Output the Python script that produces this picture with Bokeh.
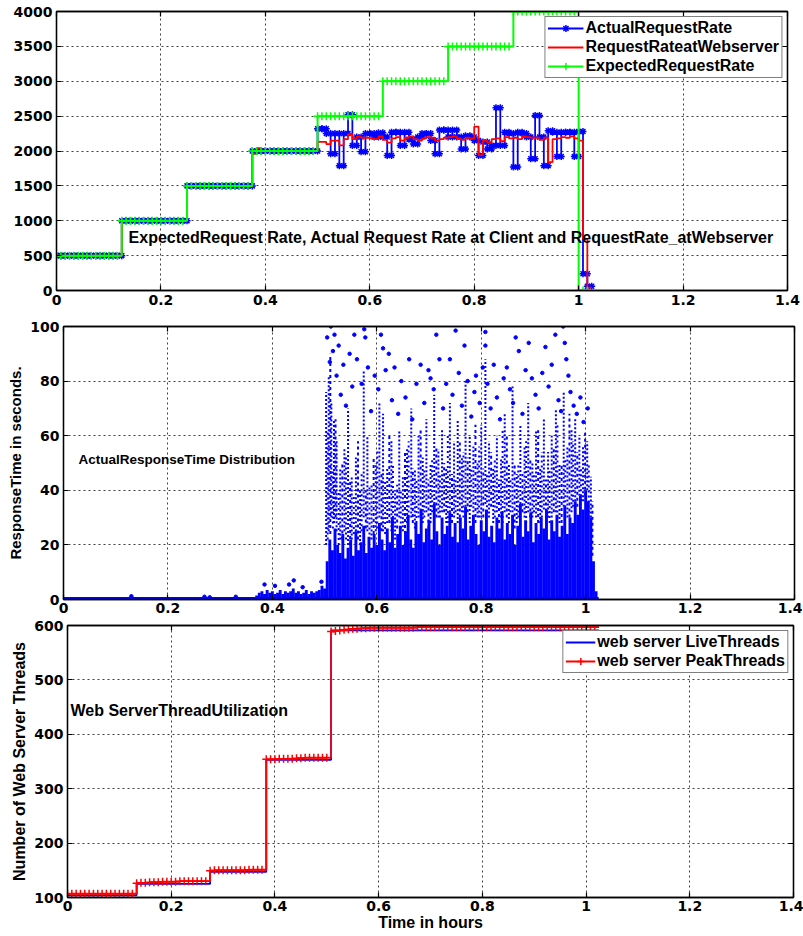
import numpy as np
from bokeh.plotting import figure
from bokeh.models import (Range1d, FixedTicker, NumeralTickFormatter, LinearAxis,
                          Legend, LegendItem, Label)
from bokeh.embed import file_html
from bokeh.resources import INLINE

# ---------------------------------------------------------------- data
SAMPLE_H = 1.0 / 120.0          # one sample every 30 s (in hours)

x_ticks = [0, 0.2, 0.4, 0.6, 0.8, 1.0, 1.2, 1.4]
rate_ticks = [0, 500, 1000, 1500, 2000, 2500, 3000, 3500, 4000]
resp_ticks = [0, 20, 40, 60, 80, 100]
thread_ticks = [100, 200, 300, 400, 500, 600]

# panel 1 : request rates (one value per sample)
expected_rate = ([500] * 15 + [1000] * 15 + [1500] * 15 + [2000] * 15 +
                 [2500] * 15 + [3000] * 15 + [3500] * 15 + [4000] * 15 + [0, 0, 0])

actual_rate_load = [
    2320, 2320, 2250, 1960, 2250, 1790, 2250, 2520, 2080, 2200,
    1990, 2250, 2250, 2200, 2260, 2200, 1935, 2270, 2270, 2080,
    2270, 2170, 2100, 2200, 2250, 2250, 2150, 1960, 2300, 2300,
    2200, 2300, 2200, 2030, 2220, 2200, 2150, 1935, 2130, 2030,
    2080, 2620, 2080, 2270, 2250, 1770, 2270, 2250, 2200, 1890,
    2510, 2200, 1790, 2290, 2270, 1920, 2270, 2270, 2270, 1920]
actual_rate = ([500] * 15 + [1000] * 15 + [1500] * 15 + [2000] * 15 +
               actual_rate_load + [2280, 240, 60])

webserver_rate_load = [
    2130, 2130, 2100, 2150, 2150, 2080, 2170, 2240, 2170, 2210,
    2190, 2190, 2180, 2170, 2210, 2160, 2120, 2180, 2200, 2150,
    2190, 2210, 2170, 2150, 2180, 2200, 2190, 2150, 2170, 2190,
    2200, 2210, 2180, 2160, 2190, 2180, 2350, 1940, 2150, 2120,
    2170, 2180, 2140, 2200, 2180, 2190, 2170, 2210, 2200, 2190,
    2190, 2160, 2190, 1840, 2170, 2180, 2200, 2190, 2210, 2180]
webserver_rate = ([500] * 15 + [1000] * 15 + [1500] * 15 + [1960, 2040] + [2000] * 13 +
                  webserver_rate_load + [2150, 740, 40])

# panel 2 : response-time scatter, summarised as dense columns, streaks and outliers
DENSE_START = 0.370
DENSE_STEP = 0.005
dense_top = [
    1.5, 2.5, 3, 2, 3.5, 2.5, 3, 2, 2.5, 3.5, 2, 3, 2.5, 3, 4, 2.5, 3, 2, 2.5, 3.5,
    2, 3, 2.5, 3, 3.5, 5,
    4, 14, 22, 18, 26, 20, 17, 24, 15, 19, 22, 16, 25, 18, 21, 27, 17, 23, 19, 24,
    20, 28, 22, 18, 26, 21, 30, 19, 24, 27, 20, 25, 31, 22, 19, 28, 24, 33, 21, 26,
    29, 22, 35, 25, 20, 30, 24, 27, 32, 23, 28, 21, 30, 26, 34, 22, 27, 31, 24, 20,
    29, 25, 33, 23, 27, 21, 30, 26, 32, 22, 28, 24, 31, 20, 27, 35, 23, 29, 25, 32,
    21, 28, 24, 30, 26, 33, 22, 29, 25, 31, 23, 27, 34, 24, 30, 28, 36, 31, 38, 33,
    40, 36, 30, 14, 3]

streak_t = [0.503, 0.508, 0.513, 0.518, 0.523, 0.530, 0.538, 0.545, 0.552, 0.560,
            0.568, 0.575, 0.582, 0.590, 0.598, 0.605, 0.612, 0.620, 0.628, 0.635,
            0.643, 0.650, 0.658, 0.666, 0.673, 0.680, 0.688, 0.695, 0.703, 0.710,
            0.718, 0.725, 0.733, 0.740, 0.748, 0.755, 0.763, 0.770, 0.778, 0.785,
            0.793, 0.800, 0.808, 0.815, 0.823, 0.830, 0.838, 0.845, 0.853, 0.860,
            0.868, 0.875, 0.883, 0.890, 0.898, 0.905, 0.913, 0.920, 0.928, 0.935,
            0.943, 0.950, 0.958, 0.965, 0.973, 0.980, 0.988, 0.995, 1.003, 1.010]
streak_lo = [20, 25, 30, 28, 25, 22, 25, 20, 22, 25,
             20, 30, 25, 22, 25, 30, 25, 28, 25, 22,
             30, 25, 28, 30, 26, 30, 28, 32, 28, 35,
             30, 32, 28, 32, 30, 28, 32, 34, 28, 32,
             30, 30, 35, 30, 28, 32, 30, 32, 28, 32,
             28, 35, 30, 32, 30, 30, 28, 33, 30, 30,
             32, 28, 34, 30, 32, 36, 38, 36, 40, 30]
streak_hi = [76, 82, 72, 66, 58, 48, 55, 70, 45, 52,
             40, 84, 60, 42, 50, 72, 68, 48, 58, 40,
             62, 45, 55, 70, 48, 60, 52, 66, 50, 75,
             55, 62, 48, 72, 58, 66, 52, 80, 60, 56,
             50, 64, 88, 58, 48, 60, 52, 68, 50, 78,
             46, 64, 56, 72, 50, 62, 48, 66, 54, 60,
             70, 50, 76, 56, 62, 66, 60, 56, 58, 45]

streak2_t = [0.506, 0.516, 0.527, 0.541, 0.556, 0.571, 0.586, 0.601, 0.616, 0.631,
             0.646, 0.661, 0.676, 0.691, 0.706, 0.721, 0.736, 0.751, 0.766, 0.781,
             0.796, 0.811, 0.826, 0.841, 0.856, 0.871, 0.886, 0.901, 0.916, 0.931,
             0.946, 0.961, 0.976, 0.991, 1.006]
streak2_lo = [22, 26, 20, 22, 24, 25, 22, 26, 24, 28,
              26, 30, 28, 30, 32, 30, 28, 32, 30, 34,
              30, 32, 30, 28, 32, 30, 28, 32, 30, 28,
              30, 32, 34, 36, 30]
streak2_hi = [62, 48, 40, 52, 38, 46, 42, 55, 44, 50,
              40, 58, 44, 48, 52, 46, 60, 44, 54, 48,
              56, 46, 52, 62, 44, 50, 58, 46, 54, 48,
              64, 52, 58, 48, 50]

streak3_t = [0.511, 0.521, 0.534, 0.549, 0.564, 0.579, 0.594, 0.609, 0.624, 0.639,
             0.654, 0.669, 0.684, 0.699, 0.714, 0.729, 0.744, 0.759, 0.774, 0.789,
             0.804, 0.819, 0.834, 0.849, 0.864, 0.879, 0.894, 0.909, 0.924, 0.939,
             0.954, 0.969, 0.984, 0.999, 1.013]
streak3_lo = [24, 30, 22, 20, 22, 26, 24, 25, 28, 26,
              24, 28, 30, 26, 30, 32, 28, 30, 32, 28,
              30, 34, 28, 30, 26, 32, 30, 28, 30, 32,
              28, 30, 34, 38, 16]
streak3_hi = [90, 66, 50, 44, 58, 40, 52, 46, 60, 42,
              54, 48, 62, 44, 56, 50, 46, 58, 52, 64,
              48, 54, 44, 60, 50, 46, 52, 62, 44, 56,
              50, 68, 54, 62, 36]

outlier_t = [0.505, 0.510, 0.512, 0.516, 0.519, 0.523, 0.527, 0.531, 0.536, 0.541,
             0.548, 0.553, 0.557, 0.562, 0.571, 0.576, 0.578, 0.583, 0.589, 0.596,
             0.603, 0.608, 0.612, 0.617, 0.623, 0.629, 0.634, 0.641, 0.647, 0.655,
             0.662, 0.668, 0.676, 0.684, 0.691, 0.699, 0.703, 0.709, 0.714, 0.720,
             0.727, 0.733, 0.740, 0.745, 0.751, 0.757, 0.763, 0.768, 0.774, 0.781,
             0.787, 0.790, 0.797, 0.803, 0.808, 0.808, 0.812, 0.818, 0.824, 0.830,
             0.836, 0.843, 0.849, 0.855, 0.861, 0.866, 0.872, 0.879, 0.885, 0.891,
             0.897, 0.904, 0.910, 0.917, 0.923, 0.929, 0.935, 0.942, 0.948, 0.953,
             0.957, 0.960, 0.963, 0.967, 0.971, 0.977, 0.983, 0.990, 0.996, 1.004,
             0.130, 0.270, 0.280, 0.330, 0.385, 0.405, 0.432, 0.441, 0.458, 0.494]
outlier_v = [96, 87, 100, 91, 97, 82, 93, 75, 86, 71,
             90, 78, 97, 88, 79, 99, 96, 85, 69, 82,
             77, 97, 92, 84, 90, 73, 85, 68, 80, 74,
             88, 66, 79, 86, 72, 84, 81, 77, 97, 88,
             70, 79, 88, 75, 98.5, 83, 71, 93, 80, 67,
             76, 82, 72, 85, 98, 93, 79, 70, 86, 74,
             66, 81, 85, 77, 72, 96, 91, 68, 84, 94,
             81, 75, 70, 83, 92.5, 78, 86, 97, 73, 69,
             100, 94, 88, 82, 76, 71, 68, 74, 65, 70,
             1.2, 1.0, 0.8, 1.0, 5.5, 5.0, 5.5, 7.0, 4.5, 6.5]
baseline_t = [0.0, 1.025]
baseline_v = [0.4, 0.4]

# panel 3 : web-server threads (one value per sample)
peak_threads = ([107] * 16 +
                [126, 127, 127, 128, 128, 128, 129, 129, 129, 129, 130, 130, 130, 130, 130, 130, 130] +
                [149, 150, 150, 150, 150, 150, 150, 150, 150, 151, 151, 151, 151] +
                [354, 354, 354, 355, 355, 355, 355, 356, 356, 357, 357, 357, 357, 357, 357] +
                [589, 590, 591, 592, 593, 594, 594, 595, 595, 596] + [596] * 10 + [597] * 42)
live_threads = ([104] * 16 + [125] * 17 + [147] * 13 + [353] * 15 + [591] * 62)

# ---------------------------------------------------------------- style helpers
TICK_FONT = "DejaVu Sans"
TEXT_FONT = "Liberation Sans"
BLUE, RED, GREEN = "#0000FF", "#FF0000", "#00FF00"


def style_axis(ax, ticks, standoff=4):
    ax.ticker = FixedTicker(ticks=ticks)
    ax.axis_line_color = "black"
    ax.axis_line_width = 1.3
    ax.major_tick_in = 5
    ax.major_tick_out = 0
    ax.major_tick_line_color = "black"
    ax.major_tick_line_width = 1.2
    ax.minor_tick_line_color = None
    ax.major_label_text_font = TICK_FONT
    ax.major_label_text_font_style = "bold"
    ax.major_label_text_font_size = "14px"
    ax.major_label_text_color = "black"
    ax.major_label_standoff = standoff
    ax.axis_label_text_font = TEXT_FONT
    ax.axis_label_text_font_style = "bold"
    ax.axis_label_text_font_size = "16px"
    ax.axis_label_text_color = "black"
    ax.axis_label_standoff = 3


def make_panel(fw, fh, ml, mr, mt, mb, yr, yticks, ylabel=None, xlabel=None, xstandoff=4):
    p = figure(frame_width=fw, frame_height=fh,
               min_border_left=ml, min_border_right=mr,
               min_border_top=mt, min_border_bottom=mb,
               x_range=Range1d(0, 1.4), y_range=Range1d(*yr),
               output_backend="svg", toolbar_location=None,
               background_fill_color="white", border_fill_color="white")
    style_axis(p.xaxis[0], x_ticks, xstandoff)
    p.xaxis[0].formatter = NumeralTickFormatter(format="0.[0]")
    style_axis(p.yaxis[0], yticks)
    if ylabel:
        p.yaxis[0].axis_label = ylabel
    if xlabel:
        p.xaxis[0].axis_label = xlabel
        p.xaxis[0].axis_label_standoff = 0
    p.xgrid.ticker = FixedTicker(ticks=x_ticks)
    p.ygrid.ticker = FixedTicker(ticks=yticks)
    for g in (p.xgrid[0], p.ygrid[0]):
        g.grid_line_color = "black"
        g.grid_line_alpha = 0.75
        g.grid_line_dash = "2 3"
        g.grid_line_width = 1
    p.outline_line_color = "black"
    p.outline_line_width = 1.3
    # mirrored inward ticks (Matlab style box), no labels
    for loc, ticks in (("above", x_ticks), ("right", yticks)):
        ax = LinearAxis()
        style_axis(ax, ticks, 0)
        ax.major_label_text_font_size = "0px"
        ax.major_label_text_color = None
        p.add_layout(ax, loc)
    return p


def step_xy(vals):
    t = np.arange(len(vals) + 1) * SAMPLE_H
    return t, list(vals) + [vals[-1]]


def style_legend(leg, size, gw):
    leg.location = "top_right"
    leg.border_line_color = "black"
    leg.border_line_width = 1.2
    leg.background_fill_color = "white"
    leg.background_fill_alpha = 1.0
    leg.label_text_font = TEXT_FONT
    leg.label_text_font_style = "bold"
    leg.label_text_font_size = size
    leg.label_text_color = "black"
    leg.glyph_width = gw
    leg.glyph_height = 18
    leg.label_height = 18
    leg.label_standoff = 2
    leg.spacing = 1
    leg.padding = 2
    leg.margin = 5


# ---------------------------------------------------------------- panel 1
p1 = make_panel(731, 279, 56, 14, 11, 21, (0, 4000), rate_ticks)

tx, ty = step_xy(actual_rate)
r_act = p1.step(tx, ty, mode="after", line_color=BLUE, line_width=1.8)
n = len(actual_rate)
t_start = np.arange(n) * SAMPLE_H
mk_x = np.concatenate([t_start, t_start + SAMPLE_H])
mk_y = np.concatenate([actual_rate, actual_rate])
s_act = p1.scatter(mk_x, mk_y, marker="asterisk", size=7, line_color=BLUE, line_width=1.5)

tx, ty = step_xy(webserver_rate)
r_web = p1.step(tx, ty, mode="after", line_color=RED, line_width=1.8)

tx, ty = step_xy(expected_rate)
r_exp = p1.step(tx, ty, mode="after", line_color=GREEN, line_width=2)
s_exp = p1.scatter(np.arange(len(expected_rate)) * SAMPLE_H, expected_rate,
                   marker="cross", size=8, line_color=GREEN, line_width=1.5)

leg1 = Legend(items=[LegendItem(label="ActualRequestRate", renderers=[r_act, s_act]),
                     LegendItem(label="RequestRateatWebserver", renderers=[r_web]),
                     LegendItem(label="ExpectedRequestRate", renderers=[r_exp, s_exp])])
style_legend(leg1, "16px", 36)
p1.add_layout(leg1)

p1.add_layout(Label(x=0.138, y=760, text="ExpectedRequest Rate, Actual Request Rate at Client and RequestRate_atWebserver",
                    text_font=TEXT_FONT, text_font_style="bold", text_font_size="16px",
                    text_color="black", text_baseline="middle"))

# ---------------------------------------------------------------- panel 2
p2 = make_panel(731, 273, 63, 8, 15, 19, (0, 100), resp_ticks, ylabel="ResponseTime in seconds.",
                xstandoff=3)
p2.yaxis[0].axis_label_text_font_size = "15px"

dense_t = DENSE_START + np.arange(len(dense_top)) * DENSE_STEP
p2.segment(x0=dense_t, y0=np.zeros(len(dense_top)), x1=dense_t, y1=dense_top,
           line_color=BLUE, line_width=2.9)
for st, lo, hi, dash in ((streak_t, streak_lo, streak_hi, "2 2"),
                         (streak2_t, streak2_lo, streak2_hi, "2 3"),
                         (streak3_t, streak3_lo, streak3_hi, "3 3")):
    p2.segment(x0=st, y0=lo, x1=st, y1=hi, line_color=BLUE, line_width=2, line_dash=dash)
p2.scatter(outlier_t, outlier_v, marker="circle", size=3.5, fill_color=BLUE, line_color=BLUE)
p2.line(baseline_t, baseline_v, line_color=BLUE, line_width=3)

p2.add_layout(Label(x=0.0287, y=51.3, text="ActualResponseTime Distribution",
                    text_font=TEXT_FONT, text_font_style="bold", text_font_size="13.5px",
                    text_color="black", text_baseline="middle"))

# ---------------------------------------------------------------- panel 3
p3 = make_panel(726, 272, 67, 10, 7, 38, (100, 600), thread_ticks,
                ylabel="Number of Web Server Threads", xlabel="Time in hours", xstandoff=3)

tx, ty = step_xy(live_threads)
r_live = p3.step(tx, ty, mode="after", line_color=BLUE, line_width=1.8)
tx, ty = step_xy(peak_threads)
r_peak = p3.step(tx, ty, mode="after", line_color=RED, line_width=1.8)
s_peak = p3.scatter(np.arange(len(peak_threads)) * SAMPLE_H, peak_threads,
                    marker="cross", size=8, line_color=RED, line_width=1.5)

leg3 = Legend(items=[LegendItem(label="web server LiveThreads", renderers=[r_live]),
                     LegendItem(label="web server PeakThreads", renderers=[r_peak, s_peak])])
style_legend(leg3, "16px", 30)
p3.add_layout(leg3)

p3.add_layout(Label(x=0.0058, y=443.7, text="Web ServerThreadUtilization",
                    text_font=TEXT_FONT, text_font_style="bold", text_font_size="16px",
                    text_color="black", text_baseline="middle"))

open("out.html", "w").write(file_html([p1, p2, p3], INLINE))
